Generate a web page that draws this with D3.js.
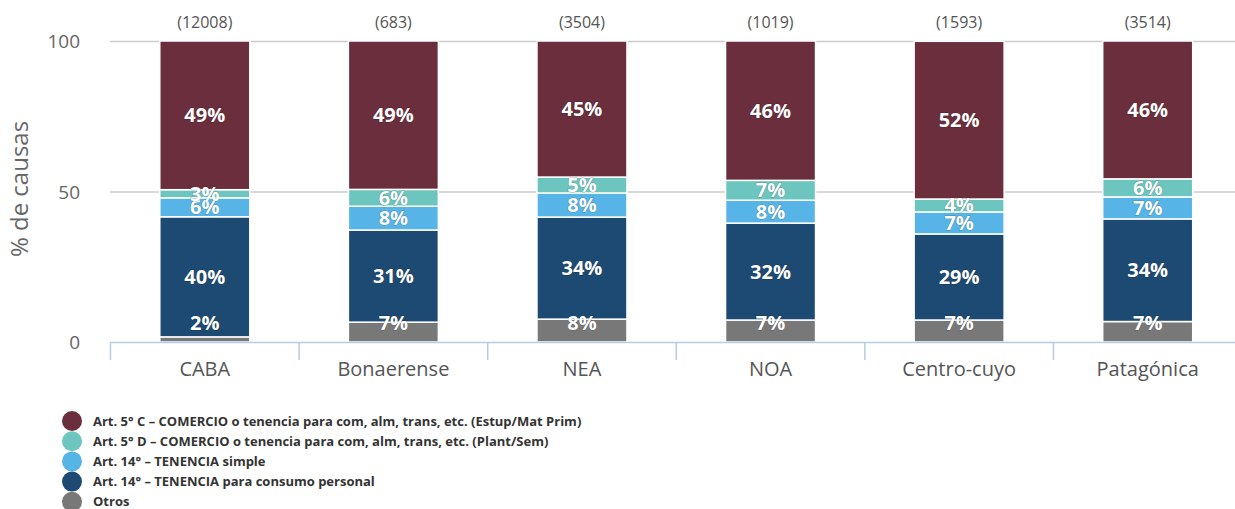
<!DOCTYPE html>
<html><head><meta charset="utf-8">
<script src="https://cdn.jsdelivr.net/npm/d3@7/dist/d3.min.js"></script>
<style>body{margin:0;background:#fff}svg{display:block}</style>
</head><body>
<svg id="c" width="1235" height="509"></svg>
<script>
const categories = ["CABA","Bonaerense","NEA","NOA","Centro-cuyo","Patagónica"];
const totals = ["(12008)","(683)","(3504)","(1019)","(1593)","(3514)"];
const seriesNames = [
  "Art. 5° C – COMERCIO o tenencia para com, alm, trans, etc. (Estup/Mat Prim)",
  "Art. 5° D – COMERCIO o tenencia para com, alm, trans, etc. (Plant/Sem)",
  "Art. 14° – TENENCIA simple",
  "Art. 14° – TENENCIA para consumo personal",
  "Otros"
];
const seriesColors = ["#6a2e3d","#6cc6bf","#56b4e6","#1d4a72","#787878"];
// values per series (percent), in category order
const comercioEstup = [49.4, 49.3, 45.2, 46.3, 52.4, 45.8];
const comercioPlant = [2.7, 5.6, 5.3, 6.6, 4.3, 6.0];
const tenenciaSimple = [6.3, 7.9, 8.0, 7.6, 7.3, 7.3];
const tenenciaConsumo = [39.9, 30.6, 33.9, 32.2, 28.6, 34.1];
const otros = [1.7, 6.6, 7.6, 7.3, 7.3, 6.8];
const labels = [
  ["49%","49%","45%","46%","52%","46%"],
  ["3%","6%","5%","7%","4%","6%"],
  ["6%","8%","8%","8%","7%","7%"],
  ["40%","31%","34%","32%","29%","34%"],
  ["2%","7%","8%","7%","7%","7%"]
];
const yTicks = [0, 50, 100];

const seriesVals = [comercioEstup, comercioPlant, tenenciaSimple, tenenciaConsumo, otros];
const keys = ["s0","s1","s2","s3","s4"];
const table = categories.map((c,i)=>{
  const o = {cat:c, i};
  keys.forEach((k,j)=>o[k]=seriesVals[j][i]);
  return o;
});
// stack from bottom: Otros first
const stackOrder = ["s4","s3","s2","s1","s0"];
const stacked = d3.stack().keys(stackOrder)(table);

const svg = d3.select("#c");
const x = d3.scaleBand().domain(categories).range([110.5, 1242]).paddingInner(0).paddingOuter(0);
const y = d3.scaleLinear().domain([0,100]).range([342, 41]);
const barW = 90;
const font = "'Open Sans', sans-serif";

// gridlines
svg.append("g").selectAll("line").data(yTicks.filter(t=>t>0)).join("line")
  .attr("x1",110).attr("x2",1235).attr("y1",d=>y(d)+0.5).attr("y2",d=>y(d)+0.5)
  .attr("stroke","#cccccc").attr("stroke-width",1.5);

// y axis labels
svg.append("g").selectAll("text").data(yTicks).join("text")
  .attr("x",80).attr("y",d=>y(d)+7).attr("text-anchor","end")
  .attr("font-family",font).attr("font-size",19).attr("fill","#666")
  .text(d=>d);

svg.append("text").attr("transform","translate(28,189) rotate(-90)")
  .attr("text-anchor","middle").attr("font-family",font).attr("font-size",24)
  .attr("fill","#666").text("% de causas");

// bars
const gBars = svg.append("g");
stacked.forEach(layer=>{
  const si = keys.indexOf(layer.key);
  gBars.append("g").selectAll("rect").data(layer).join("rect")
    .attr("x",d=>x(d.data.cat)+x.bandwidth()/2-barW/2)
    .attr("width",barW)
    .attr("y",d=>y(d[1]))
    .attr("height",d=>y(d[0])-y(d[1]))
    .attr("fill",seriesColors[si])
    .attr("stroke","#fff").attr("stroke-width",1.5);
});

// axis
const axisG = svg.append("g").attr("transform","translate(0,342)");
axisG.append("line").attr("x1",110).attr("x2",1235).attr("y1",0.5).attr("y2",0.5)
  .attr("stroke","#b4cde6").attr("stroke-width",1.5);
axisG.selectAll("line.tk").data(categories).join("line").attr("class","tk")
  .attr("x1",d=>x(d)).attr("x2",d=>x(d)).attr("y1",0).attr("y2",18)
  .attr("stroke","#b4cde6").attr("stroke-width",1.5);
axisG.selectAll("text").data(categories).join("text")
  .attr("x",d=>x(d)+x.bandwidth()/2).attr("y",34).attr("text-anchor","middle")
  .attr("font-family",font).attr("font-size",20).attr("fill","#555").text(d=>d);

// totals on top
svg.append("g").selectAll("text").data(categories).join("text")
  .attr("x",d=>x(d)+x.bandwidth()/2).attr("y",28).attr("text-anchor","middle")
  .attr("font-family",font).attr("font-size",16).attr("fill","#555")
  .text((d,i)=>totals[i]);

// data labels
const gLab = svg.append("g");
stacked.forEach(layer=>{
  const si = keys.indexOf(layer.key);
  gLab.append("g").selectAll("text").data(layer).join("text")
    .attr("x",d=>x(d.data.cat)+x.bandwidth()/2)
    .attr("y",d=>Math.min((y(d[0])+y(d[1]))/2, y(0)-19)+7)
    .attr("text-anchor","middle")
    .attr("font-family",font).attr("font-size",20).attr("font-weight","bold")
    .attr("fill","#fff")
    .attr("stroke","rgba(0,0,0,0.25)").attr("stroke-width",1).attr("paint-order","stroke")
    .text(d=>labels[si][d.data.i]);
});

// legend
const lg = svg.append("g");
seriesNames.forEach((n,i)=>{
  const cy = 421 + i*20.2;
  lg.append("circle").attr("cx",72).attr("cy",cy).attr("r",10).attr("fill",seriesColors[i]);
  lg.append("text").attr("x",93).attr("y",cy+4.5).attr("font-family",font)
    .attr("font-size",13).attr("font-weight","bold").attr("fill","#333").text(n);
});
</script>
</body></html>
